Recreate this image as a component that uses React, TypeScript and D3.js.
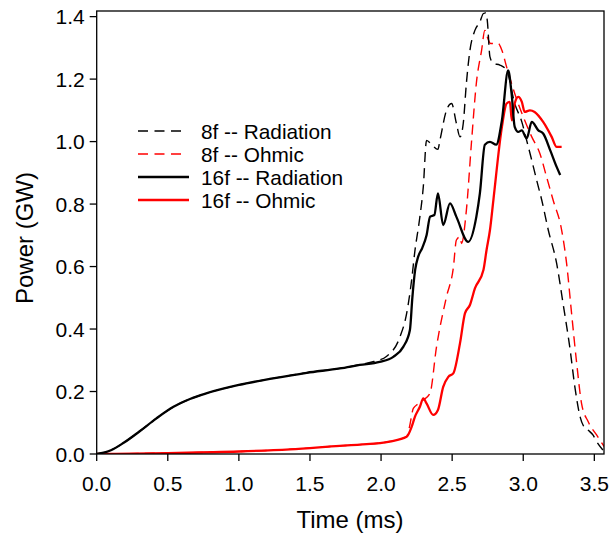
import React from "react";
import * as d3 from "d3";

type P = [number, number];

const xTicks = [0, 0.5, 1.0, 1.5, 2.0, 2.5, 3.0, 3.5];
const yTicks = [0, 0.2, 0.4, 0.6, 0.8, 1.0, 1.2, 1.4];

const rad16f: P[] = [
  [0, 0], [0.1, 0.012], [0.187, 0.035], [0.3, 0.072], [0.42, 0.114], [0.54, 0.151],
  [0.656, 0.176], [0.77, 0.194], [1.0, 0.221], [1.24, 0.242], [1.477, 0.26], [1.71, 0.274],
  [1.85, 0.285], [1.99, 0.295], [2.086, 0.311], [2.156, 0.343], [2.203, 0.397], [2.22, 0.5],
  [2.24, 0.59], [2.26, 0.63], [2.29, 0.66], [2.32, 0.7], [2.345, 0.76], [2.375, 0.765],
  [2.4, 0.834], [2.437, 0.733], [2.485, 0.802], [2.53, 0.759], [2.613, 0.679], [2.67, 0.759],
  [2.695, 0.834], [2.73, 0.99], [2.766, 0.999], [2.81, 0.99], [2.85, 1.068], [2.894, 1.228],
  [2.918, 1.154], [2.94, 1.047], [2.965, 1.031], [2.99, 1.036], [3.024, 1.01], [3.06, 1.063],
  [3.106, 1.036], [3.14, 1.026], [3.19, 0.972], [3.235, 0.919], [3.26, 0.893],
];

const rad8f: P[] = [
  [0, 0], [0.1, 0.012], [0.187, 0.035], [0.3, 0.072], [0.42, 0.114], [0.54, 0.151],
  [0.656, 0.176], [0.77, 0.194], [1.0, 0.221], [1.24, 0.242], [1.477, 0.26], [1.71, 0.274],
  [1.85, 0.286], [1.95, 0.296], [2.04, 0.313], [2.133, 0.375], [2.18, 0.45], [2.215, 0.557],
  [2.238, 0.65], [2.27, 0.749], [2.297, 0.855], [2.32, 1.004], [2.356, 0.99], [2.4, 0.975],
  [2.414, 1.004], [2.46, 1.1], [2.496, 1.122], [2.53, 1.058], [2.555, 1.015], [2.578, 1.058],
  [2.6, 1.186], [2.625, 1.292], [2.66, 1.356], [2.695, 1.383], [2.72, 1.41], [2.737, 1.412],
  [2.747, 1.388], [2.766, 1.271], [2.79, 1.25], [2.836, 1.245], [2.883, 1.228], [2.94, 1.122],
  [2.99, 1.063], [3.024, 1.004], [3.06, 0.94], [3.094, 0.877], [3.13, 0.813], [3.176, 0.717],
  [3.235, 0.61], [3.28, 0.482], [3.33, 0.333], [3.363, 0.215], [3.4, 0.119], [3.43, 0.085],
  [3.46, 0.075], [3.49, 0.061], [3.516, 0.04], [3.56, 0.013],
];

const ohm16f: P[] = [
  [0, 0], [0.5, 0.003], [1.0, 0.008], [1.36, 0.015], [1.71, 0.026], [1.85, 0.03],
  [2.06, 0.04], [2.18, 0.055], [2.215, 0.087], [2.238, 0.119], [2.273, 0.151], [2.297, 0.178],
  [2.32, 0.162], [2.367, 0.125], [2.4, 0.141], [2.437, 0.215], [2.473, 0.247], [2.508, 0.258],
  [2.555, 0.354], [2.59, 0.45], [2.625, 0.477], [2.66, 0.53], [2.72, 0.589], [2.742, 0.653],
  [2.766, 0.717], [2.79, 0.813], [2.85, 1.047], [2.883, 1.122], [2.906, 1.127], [2.92, 1.068],
  [2.94, 1.122], [2.965, 1.143], [2.99, 1.127], [3.01, 1.095], [3.047, 1.1], [3.08, 1.095],
  [3.14, 1.063], [3.2, 1.015], [3.235, 0.983], [3.27, 0.983],
];

const ohm8f: P[] = [
  [0, 0], [0.5, 0.003], [1.0, 0.008], [1.36, 0.015], [1.71, 0.026], [1.85, 0.03],
  [2.06, 0.04], [2.18, 0.056], [2.2, 0.087], [2.227, 0.146], [2.26, 0.16], [2.297, 0.173],
  [2.344, 0.194], [2.39, 0.343], [2.46, 0.503], [2.508, 0.595], [2.53, 0.685], [2.555, 0.695],
  [2.566, 0.674], [2.6, 0.78], [2.637, 1.004], [2.67, 1.186], [2.707, 1.292], [2.73, 1.356],
  [2.747, 1.335], [2.77, 1.314], [2.8, 1.314], [2.824, 1.314], [2.85, 1.292], [2.883, 1.239],
  [2.94, 1.154], [3.01, 1.068], [3.06, 1.015], [3.117, 0.962], [3.164, 0.887], [3.21, 0.813],
  [3.27, 0.717], [3.305, 0.61], [3.34, 0.45], [3.376, 0.29], [3.41, 0.162], [3.457, 0.103],
  [3.516, 0.061], [3.57, 0.023],
];

const seriesNames = ["8f -- Radiation", "8f -- Ohmic", "16f -- Radiation", "16f -- Ohmic"];
const seriesColors = ["#000000", "#ff0000", "#000000", "#ff0000"];
const seriesDashed = [true, true, false, false];
const seriesData = [rad8f, ohm8f, rad16f, ohm16f];

const W = 611;
const H = 538;
const L = 96.7;
const R = 604;
const T = 11;
const B = 454;
const FONT = "'Liberation Sans', Arial, sans-serif";

export default function App() {
  const x = d3.scaleLinear().domain([0, 3.568]).range([L, R]);
  const y = d3.scaleLinear().domain([0, 1.418]).range([B, T]);
  const line = d3
    .line<P>()
    .x((d) => x(d[0]))
    .y((d) => y(d[1]))
    .curve(d3.curveMonotoneX);

  const order = [1, 0, 3, 2];

  return (
    <svg
      width={W}
      height={H}
      style={{ position: "absolute", left: 0, top: 0, background: "#fff" }}
      fontFamily={FONT}
    >
      <defs>
        <clipPath id="plot">
          <rect x={L} y={T} width={R - L} height={B - T} />
        </clipPath>
      </defs>
      <g clipPath="url(#plot)">
        {order.map((i) => (
          <path
            key={i}
            d={line(seriesData[i]) || ""}
            fill="none"
            stroke={seriesColors[i]}
            strokeWidth={seriesDashed[i] ? 1.4 : 2.3}
            strokeDasharray={seriesDashed[i] ? "10,6" : undefined}
            strokeLinejoin="round"
          />
        ))}
      </g>
      <rect x={L} y={T} width={R - L} height={B - T} fill="none" stroke="#000" strokeWidth={1.3} />
      {xTicks.map((t) => (
        <g key={"x" + t}>
          <line x1={x(t)} x2={x(t)} y1={B} y2={B + 7} stroke="#000" strokeWidth={1.3} />
          <text x={x(t)} y={B + 37} textAnchor="middle" fontSize={21} fill="#000">
            {t.toFixed(1)}
          </text>
        </g>
      ))}
      {yTicks.map((t) => (
        <g key={"y" + t}>
          <line x1={L - 7} x2={L} y1={y(t)} y2={y(t)} stroke="#000" strokeWidth={1.3} />
          <text x={L - 12} y={y(t) + 7.5} textAnchor="end" fontSize={21} fill="#000">
            {t.toFixed(1)}
          </text>
        </g>
      ))}
      <text x={350} y={528} textAnchor="middle" fontSize={24} fill="#000">
        Time (ms)
      </text>
      <text
        transform={`translate(33,${238}) rotate(-90)`}
        textAnchor="middle"
        fontSize={24}
        fill="#000"
      >
        Power (GW)
      </text>
      {seriesNames.map((name, i) => {
        const ly = 131 + i * 23;
        return (
          <g key={name}>
            <line
              x1={138}
              x2={seriesDashed[i] ? 184 : 189}
              y1={ly}
              y2={ly}
              stroke={seriesColors[i]}
              strokeWidth={seriesDashed[i] ? 1.4 : 2.3}
              strokeDasharray={seriesDashed[i] ? "10,6.5" : undefined}
            />
            <text x={201} y={ly + 7.5} fontSize={20.8} fill="#000">
              {name}
            </text>
          </g>
        );
      })}
    </svg>
  );
}
